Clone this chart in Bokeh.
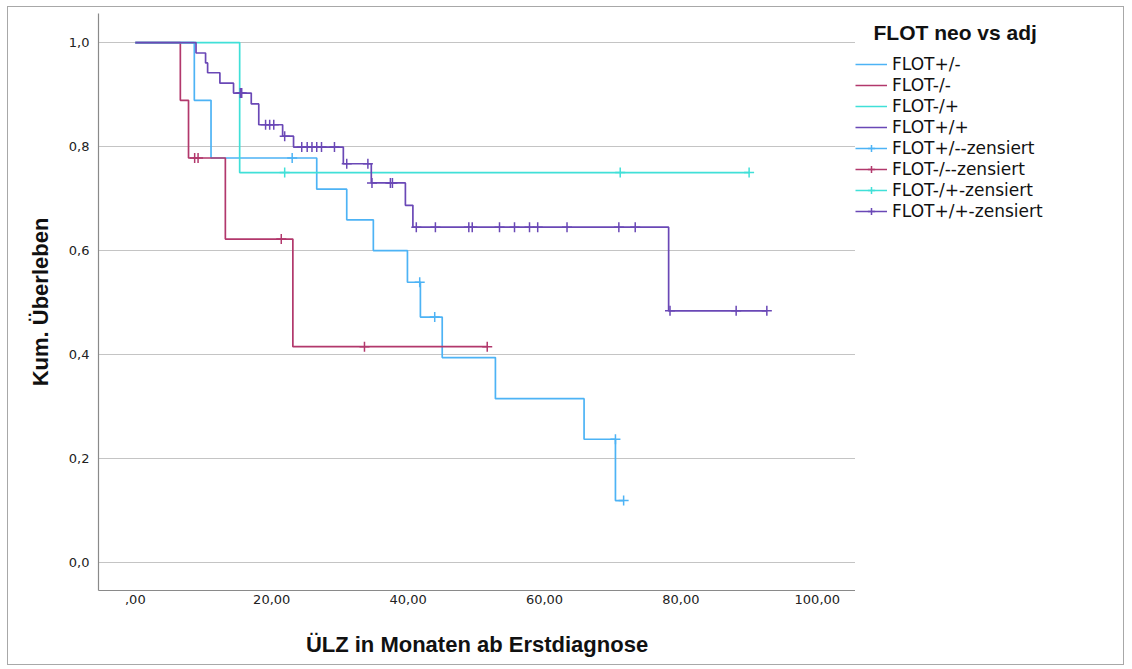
import numpy as np
from bokeh.plotting import figure
from bokeh.layouts import row
from bokeh.models import Legend, LegendItem, Range1d, FixedTicker, Label
from bokeh.embed import file_html
from bokeh.resources import INLINE

# ---- data ----
groups = ["FLOT+/-", "FLOT-/-", "FLOT-/+", "FLOT+/+"]
colors = ["#4DB3F5", "#B2386C", "#40E0D8", "#6A48B6"]

# step curves: event times (months) and cumulative survival after each step
blue_t = [0, 8.65, 11.1, 26.6, 31.0, 34.9, 39.9, 41.8, 45.0, 52.8, 65.8, 70.4, 71.6]
blue_s = [1.0, 0.889, 0.778, 0.718, 0.659, 0.600, 0.539, 0.472, 0.394, 0.315, 0.237, 0.119, 0.119]

red_t = [0, 6.6, 7.8, 13.2, 23.1, 51.6]
red_s = [1.0, 0.889, 0.778, 0.622, 0.415, 0.415]

cyan_t = [0, 15.3, 90.0]
cyan_s = [1.0, 0.75, 0.75]

purple_t = [0, 8.9, 10.3, 10.6, 12.4, 14.4, 17.0, 18.1, 21.6, 23.2, 30.5, 34.6, 39.6, 40.7, 78.2, 92.6]
purple_s = [1.0, 0.980, 0.961, 0.942, 0.922, 0.903, 0.882, 0.842, 0.820, 0.799, 0.767, 0.730, 0.687, 0.645, 0.484, 0.484]

# censored observations
blue_ct = [23.0, 41.7, 43.9, 70.4, 71.6]
blue_cs = [0.778, 0.539, 0.472, 0.237, 0.119]

red_ct = [8.7, 9.2, 21.4, 33.6, 51.6]
red_cs = [0.778, 0.778, 0.622, 0.415, 0.415]

cyan_ct = [21.9, 71.1, 90.0]
cyan_cs = [0.75, 0.75, 0.75]

purple_ct = [15.4, 15.6, 19.1, 19.7, 20.3, 21.9, 24.4, 25.2, 25.9, 26.6, 27.3, 29.2,
             31.0, 34.1, 34.7, 37.4, 37.7, 41.2, 44.0, 48.9, 49.4, 53.4, 55.6, 57.8,
             59.0, 63.3, 70.9, 73.3, 78.4, 88.1, 92.6]
purple_cs = [0.903, 0.903, 0.842, 0.842, 0.842, 0.820, 0.799, 0.799, 0.799, 0.799, 0.799, 0.799,
             0.767, 0.767, 0.730, 0.730, 0.730, 0.645, 0.645, 0.645, 0.645, 0.645, 0.645, 0.645,
             0.645, 0.645, 0.645, 0.645, 0.484, 0.484, 0.484]

x_ticks = [0, 20, 40, 60, 80, 100]
x_labels = [",00", "20,00", "40,00", "60,00", "80,00", "100,00"]
y_ticks = [0.0, 0.2, 0.4, 0.6, 0.8, 1.0]
y_labels = ["0,0", "0,2", "0,4", "0,6", "0,8", "1,0"]

legend_title = "FLOT neo vs adj"

steps = [(blue_t, blue_s), (red_t, red_s), (cyan_t, cyan_s), (purple_t, purple_s)]
cens = [(blue_ct, blue_cs), (red_ct, red_cs), (cyan_ct, cyan_cs), (purple_ct, purple_cs)]

H = 657
TOP = 6
BOTTOM = 74

# ---- main plot ----
p = figure(width=847, height=H, output_backend="svg", toolbar_location=None, title=None,
           x_range=Range1d(-5.4, 105.6), y_range=Range1d(-0.054, 1.056),
           min_border_left=90, min_border_right=0, min_border_top=TOP, min_border_bottom=BOTTOM)
p.outline_line_color = None
p.background_fill_color = "white"
p.border_fill_color = "white"

p.xgrid.visible = False
p.ygrid.grid_line_color = "#c4c4c4"
p.ygrid.grid_line_width = 1.2

for ax in (p.xaxis[0], p.yaxis[0]):
    ax.axis_line_color = "#8a8a8a"
    ax.axis_line_width = 1.2
    ax.major_tick_in = 0
    ax.major_tick_out = 0
    ax.minor_tick_in = 0
    ax.minor_tick_out = 0
    ax.major_label_text_font = "DejaVu Sans"
    ax.major_label_text_font_size = "13px"
    ax.major_label_text_color = "#222222"
    ax.axis_label_text_font = "Liberation Sans"
    ax.axis_label_text_font_style = "bold"
    ax.axis_label_text_font_size = "22px"
    ax.axis_label_text_color = "#111111"

p.xaxis.ticker = FixedTicker(ticks=x_ticks)
p.xaxis.major_label_overrides = {t: l for t, l in zip(x_ticks, x_labels)}
p.yaxis.ticker = FixedTicker(ticks=y_ticks)
p.yaxis.major_label_overrides = {t: l for t, l in zip(y_ticks, y_labels)}
p.xaxis.axis_label = "ÜLZ in Monaten ab Erstdiagnose"
p.yaxis.axis_label = "Kum. Überleben"
p.xaxis.major_label_standoff = 4
p.xaxis.axis_label_standoff = 25
p.yaxis.major_label_standoff = 9
p.yaxis.axis_label_standoff = 13

for (t, s), c in zip(steps, colors):
    p.step(t, s, mode="after", line_color=c, line_width=1.7)
for (t, s), c in zip(cens, colors):
    p.scatter(t, s, marker="cross", size=10, line_color=c, line_width=1.5)

# ---- legend panel (separate figure to the right of the plot) ----
# the same series are drawn here but kept outside the visible ranges; they only feed the legend keys
q = figure(width=268, height=H, output_backend="svg", toolbar_location=None, title=None,
           x_range=Range1d(-2, -1), y_range=Range1d(-2, -1),
           x_axis_location=None, y_axis_location=None,
           min_border_left=0, min_border_right=0, min_border_top=TOP, min_border_bottom=BOTTOM)
q.grid.visible = False
q.outline_line_color = None
q.background_fill_color = "white"
q.border_fill_color = "white"

frame_h = H - TOP - BOTTOM
q.add_layout(Label(x=18, y=frame_h - 19, x_units="screen", y_units="screen",
                   text=legend_title, text_align="left", text_baseline="middle",
                   text_font="Liberation Sans", text_font_style="bold",
                   text_font_size="21px", text_color="#111111"))

line_keys = []
cens_keys = []
for (t, s), c in zip(steps, colors):
    line_keys.append(q.step(t, s, mode="after", line_color=c, line_width=1.7))
for (t, s), c in zip(cens, colors):
    cens_keys.append(q.scatter(t, s, marker="cross", size=12, line_color=c, line_width=1.5))

items = []
for g, r in zip(groups, line_keys):
    items.append(LegendItem(label=g, renderers=[r]))
for g, r, cr in zip(groups, line_keys, cens_keys):
    items.append(LegendItem(label=g + "-zensiert", renderers=[r, cr]))

legend = Legend(items=items, location=(0, frame_h - 32 - 176),
                margin=0, padding=3, glyph_width=32, glyph_height=18, label_height=18,
                spacing=1, label_standoff=5, border_line_color=None,
                background_fill_alpha=0,
                label_text_font="DejaVu Sans", label_text_font_size="17px",
                label_text_color="#111111")
q.add_layout(legend)

layout = row(p, q)
layout.styles = {"border": "1px solid #a8a8a8", "margin-left": "7px", "margin-top": "6px"}

open("out.html", "w").write(file_html(layout, INLINE))
